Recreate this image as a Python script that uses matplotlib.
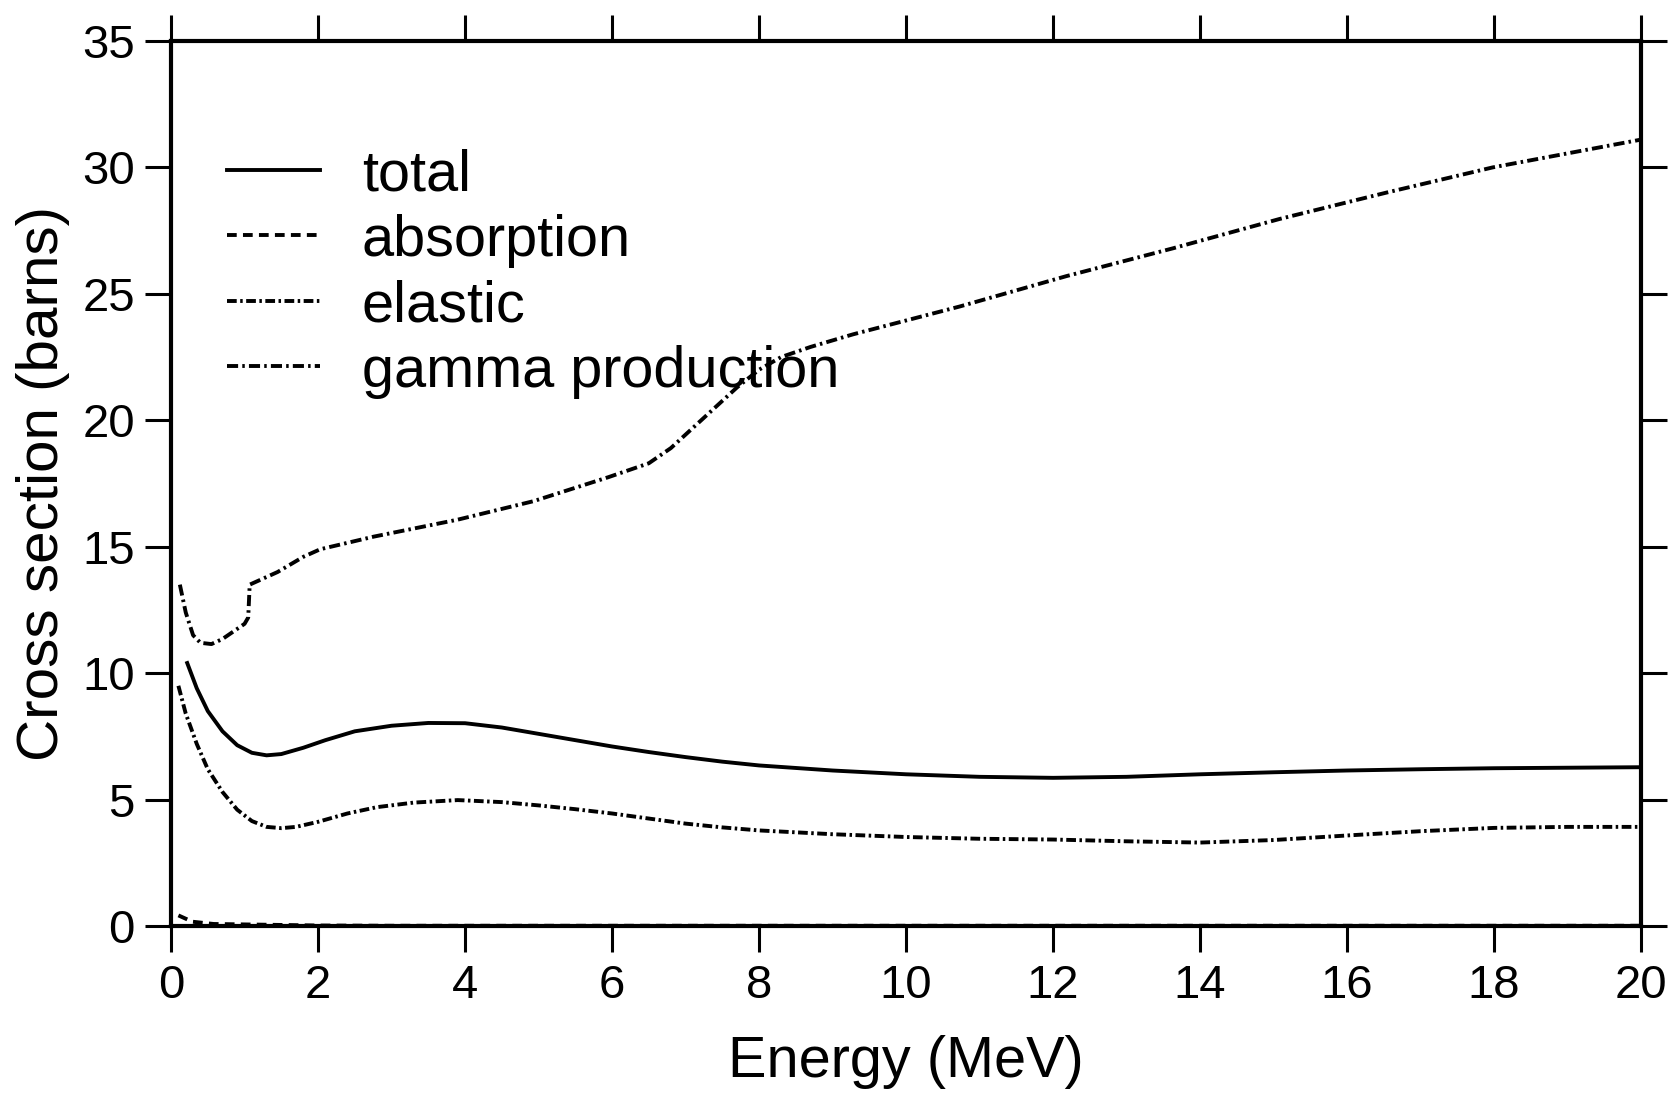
import matplotlib
matplotlib.use("Agg")
import matplotlib.pyplot as plt

plt.rcParams['font.family'] = ['Liberation Sans', 'DejaVu Sans']
plt.rcParams['lines.scale_dashes'] = False

# data (energy in MeV, cross section in barns)
e_total = [0.22, 0.35, 0.5, 0.7, 0.9, 1.1, 1.3, 1.5, 1.8, 2.1, 2.5, 3.0,
           3.5, 4.0, 4.5, 5.0, 5.5, 6.0, 6.5, 7.0, 7.5, 8.0, 9.0, 10.0,
           11.0, 12.0, 13.0, 14.0, 15.0, 16.0, 17.0, 18.0, 19.0, 20.0]
xs_total = [10.4, 9.4, 8.5, 7.7, 7.15, 6.85, 6.75, 6.8, 7.05, 7.35, 7.7, 7.92,
            8.03, 8.02, 7.85, 7.6, 7.35, 7.1, 6.88, 6.68, 6.5, 6.35, 6.15, 6.0,
            5.9, 5.86, 5.9, 6.0, 6.08, 6.15, 6.2, 6.24, 6.26, 6.28]

e_abs = [0.1, 0.29, 0.58, 1.3, 2.0, 3.0, 20.0]
xs_abs = [0.42, 0.17, 0.08, 0.05, 0.02, 0.01, 0.01]

e_el = [0.1, 0.2, 0.35, 0.5, 0.7, 0.9, 1.1, 1.3, 1.5, 1.7, 2.0, 2.4, 2.8,
        3.3, 3.9, 4.5, 5.0, 5.5, 6.0, 6.5, 7.0, 7.5, 8.0, 9.0, 10.0, 11.0,
        12.0, 13.0, 14.0, 15.0, 16.0, 17.0, 18.0, 19.0, 20.0]
xs_el = [9.5, 8.4, 7.2, 6.2, 5.3, 4.6, 4.15, 3.92, 3.87, 3.92, 4.12, 4.45, 4.7,
         4.88, 4.98, 4.9, 4.77, 4.62, 4.45, 4.25, 4.05, 3.9, 3.78, 3.63, 3.52, 3.45,
         3.42, 3.35, 3.3, 3.4, 3.58, 3.75, 3.88, 3.92, 3.92]

e_gam = [0.12, 0.2, 0.3, 0.4, 0.55, 0.7, 0.85, 1.0, 1.05, 1.07, 1.45, 1.8,
         2.03, 2.76, 3.9, 4.93, 5.95, 6.5, 6.8, 7.1, 7.4, 7.7, 8.0, 8.3, 8.7,
         9.28, 10.73, 12.18, 13.63, 15.08, 16.53, 17.98, 20.0]
xs_gam = [13.5, 12.4, 11.5, 11.2, 11.15, 11.35, 11.65, 11.95, 12.2, 13.5, 14.0, 14.6,
          14.9, 15.4, 16.07, 16.8, 17.75, 18.3, 18.9, 19.7, 20.5, 21.3, 22.0, 22.5, 22.9,
          23.4, 24.5, 25.7, 26.8, 27.96, 29.0, 30.0, 31.1]

fig = plt.figure(figsize=(16.72, 10.96), dpi=100)
ax = fig.add_axes([0.1023, 0.1551, 0.8792, 0.8075])

lw = 2.8
ax.plot(e_total, xs_total, color='black', lw=lw, label='total')
ax.plot(e_abs, xs_abs, color='black', lw=lw, dashes=(7, 4.5), label='absorption')
ax.plot(e_el, xs_el, color='black', lw=lw, dashes=(7, 2.5, 1.8, 2.5), label='elastic')
ax.plot(e_gam, xs_gam, color='black', lw=lw, dashes=(8, 3, 1.8, 3), label='gamma production')

ax.set_xlim(0, 20)
ax.set_ylim(0, 35)
ax.set_xticks(range(0, 21, 2))
ax.set_yticks(range(0, 36, 5))

for s in ax.spines.values():
    s.set_linewidth(3.0)
ax.tick_params(direction='out', length=19, width=2.2, top=True, right=True,
               labelsize=34)
ax.tick_params(axis='x', pad=8)
ax.tick_params(axis='y', pad=7)

ax.set_xlabel('Energy (MeV)', fontsize=41.5)
ax.set_ylabel('Cross section (barns)', fontsize=42)
ax.xaxis.set_label_coords(0.5, -0.123)
ax.yaxis.set_label_coords(-0.069, 0.5)

ax.legend(loc='upper left', bbox_to_anchor=(0.038, 0.879), frameon=False,
          fontsize=41.5, handlelength=1.62, handletextpad=0.72,
          labelspacing=0.2, borderpad=0, borderaxespad=0)

fig.savefig('out.png', dpi=100)
